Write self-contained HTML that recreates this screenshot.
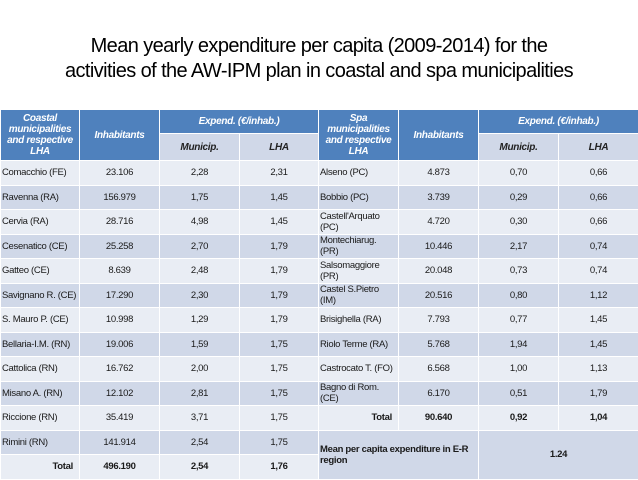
<!DOCTYPE html>
<html><head><meta charset="utf-8">
<style>
html,body{margin:0;padding:0;background:#fff;}
body{width:638px;height:479px;position:relative;overflow:hidden;font-family:"Liberation Sans",sans-serif;}
#title{position:absolute;left:0;top:34px;width:638px;text-align:center;font-size:20px;line-height:25px;color:#000;letter-spacing:-0.6px;}
table{position:absolute;left:0;top:109px;border-collapse:collapse;table-layout:fixed;width:638px;}
td{border:1px solid #fff;font-size:9.5px;color:#1a1a1a;text-align:center;padding:0 1px;height:23.5px;line-height:11px;overflow:hidden;letter-spacing:-0.3px;white-space:nowrap;}
td.n{text-align:left;}
tr.h1 td{height:23px;}
tr.h2 td{height:26px;}
.hd{background:#4f81bd;color:#fff;font-weight:bold;font-style:italic;font-size:10px;letter-spacing:-0.3px;white-space:normal;}
.sub{background:#d0d8e8;color:#222;font-weight:bold;font-style:italic;font-size:10px;letter-spacing:-0.3px;}
tr.d td{background:#d0d8e8;}
tr.l td{background:#e9edf4;}
td.b{font-weight:bold;}
td.r{text-align:right;padding-right:6px;}
</style></head><body>
<div id="title">Mean yearly expenditure per capita (2009-2014) for the<br>activities of the AW-IPM plan in coastal and spa municipalities</div>
<table>
<colgroup><col style="width:79px"><col style="width:80px"><col style="width:80px"><col style="width:79px"><col style="width:80px"><col style="width:80px"><col style="width:80px"><col style="width:80px"></colgroup>
<tr class="h1">
<td class="hd" rowspan="2">Coastal municipalities and respective LHA</td>
<td class="hd" rowspan="2">Inhabitants</td>
<td class="hd" colspan="2">Expend. (€/inhab.)</td>
<td class="hd" rowspan="2">Spa municipalities and respective LHA</td>
<td class="hd" rowspan="2">Inhabitants</td>
<td class="hd" colspan="2">Expend. (€/inhab.)</td>
</tr>
<tr class="h2">
<td class="sub">Municip.</td>
<td class="sub">LHA</td>
<td class="sub">Municip.</td>
<td class="sub">LHA</td>
</tr>
<tr class="l"><td class="n">Comacchio (FE)</td><td>23.106</td><td>2,28</td><td>2,31</td><td class="n">Alseno (PC)</td><td>4.873</td><td>0,70</td><td>0,66</td></tr>
<tr class="d"><td class="n">Ravenna (RA)</td><td>156.979</td><td>1,75</td><td>1,45</td><td class="n">Bobbio (PC)</td><td>3.739</td><td>0,29</td><td>0,66</td></tr>
<tr class="l"><td class="n">Cervia (RA)</td><td>28.716</td><td>4,98</td><td>1,45</td><td class="n">Castell'Arquato<br>(PC)</td><td>4.720</td><td>0,30</td><td>0,66</td></tr>
<tr class="d"><td class="n">Cesenatico (CE)</td><td>25.258</td><td>2,70</td><td>1,79</td><td class="n">Montechiarug.<br>(PR)</td><td>10.446</td><td>2,17</td><td>0,74</td></tr>
<tr class="l"><td class="n">Gatteo (CE)</td><td>8.639</td><td>2,48</td><td>1,79</td><td class="n">Salsomaggiore<br>(PR)</td><td>20.048</td><td>0,73</td><td>0,74</td></tr>
<tr class="d"><td class="n">Savignano R. (CE)</td><td>17.290</td><td>2,30</td><td>1,79</td><td class="n">Castel S.Pietro<br>(IM)</td><td>20.516</td><td>0,80</td><td>1,12</td></tr>
<tr class="l"><td class="n">S. Mauro P. (CE)</td><td>10.998</td><td>1,29</td><td>1,79</td><td class="n">Brisighella (RA)</td><td>7.793</td><td>0,77</td><td>1,45</td></tr>
<tr class="d"><td class="n">Bellaria-I.M. (RN)</td><td>19.006</td><td>1,59</td><td>1,75</td><td class="n">Riolo Terme (RA)</td><td>5.768</td><td>1,94</td><td>1,45</td></tr>
<tr class="l"><td class="n">Cattolica (RN)</td><td>16.762</td><td>2,00</td><td>1,75</td><td class="n">Castrocato T. (FO)</td><td>6.568</td><td>1,00</td><td>1,13</td></tr>
<tr class="d"><td class="n">Misano A. (RN)</td><td>12.102</td><td>2,81</td><td>1,75</td><td class="n">Bagno di Rom.<br>(CE)</td><td>6.170</td><td>0,51</td><td>1,79</td></tr>
<tr class="l"><td class="n">Riccione (RN)</td><td>35.419</td><td>3,71</td><td>1,75</td><td class="r b">Total</td><td class="b">90.640</td><td class="b">0,92</td><td class="b">1,04</td></tr>
<tr class="d"><td class="n">Rimini (RN)</td><td>141.914</td><td>2,54</td><td>1,75</td>
<td class="n b" colspan="2" rowspan="2" style="background:#d0d8e8">Mean per capita expenditure in E-R<br>region</td>
<td class="b" colspan="2" rowspan="2" style="background:#d0d8e8">1.24</td></tr>
<tr class="l"><td class="r b">Total</td><td class="b">496.190</td><td class="b">2,54</td><td class="b">1,76</td></tr>
</table>
</body></html>
